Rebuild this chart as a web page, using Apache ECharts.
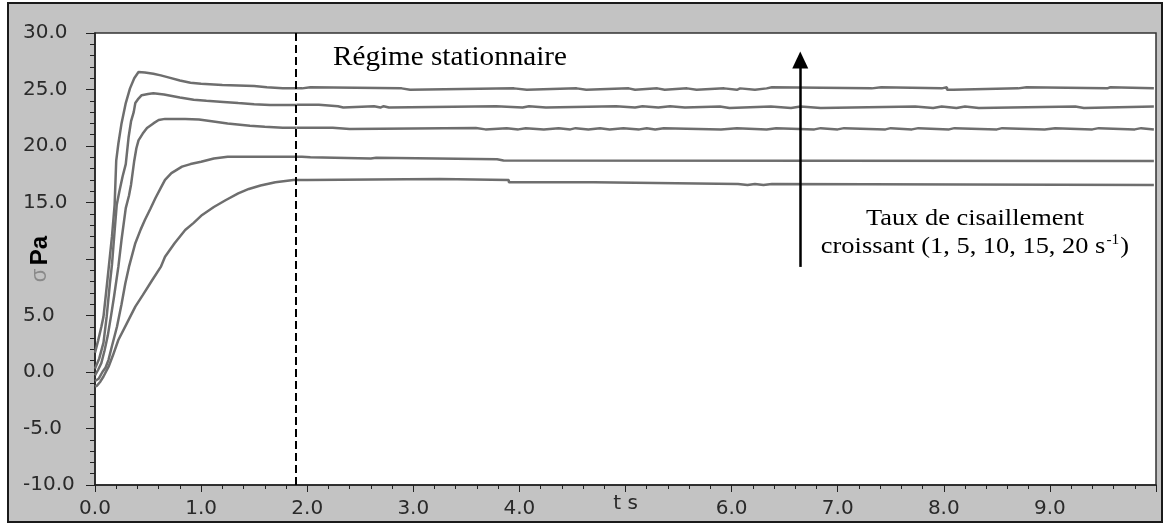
<!DOCTYPE html>
<html>
<head>
<meta charset="utf-8">
<script src="https://cdn.jsdelivr.net/npm/echarts@6/dist/echarts.min.js"></script>
<style>
  html, body { margin: 0; padding: 0; background: #fff; }
  #chart { width: 1163px; height: 524px; }
</style>
</head>
<body>
<div id="chart"></div>
<script>
// Shear stress (Pa) versus time (s) for five shear rates: start-up transient
// followed by the steady-state plateau.
const shearRates = [20, 15, 10, 5, 1];

// Start-up part of each curve, [t (s), sigma (Pa)]
const rise20 = [[0,1.7],[0.03,2.8],[0.06,4.0],[0.08,4.9],[0.11,7.5],[0.13,9.3],[0.16,12.0],[0.185,14.8],[0.2,18.7],[0.22,20.2],[0.25,22.0],[0.29,23.8],[0.33,25.1],[0.37,26.0],[0.41,26.55],[0.47,26.5],[0.55,26.4],[0.62,26.25],[0.7,26.05],[0.8,25.8],[0.9,25.6],[1.0,25.5],[1.2,25.4],[1.5,25.3],[1.62,25.2],[1.77,25.1],[1.9,25.1]];
const rise15 = [[0,0.3],[0.04,1.2],[0.08,2.6],[0.11,4.9],[0.14,7.8],[0.16,9.5],[0.185,12.5],[0.205,14.8],[0.23,16.0],[0.26,17.3],[0.29,18.4],[0.317,20.8],[0.34,22.2],[0.365,23.0],[0.38,23.8],[0.41,24.2],[0.44,24.5],[0.5,24.6],[0.55,24.66],[0.65,24.55],[0.8,24.3],[0.93,24.1],[1.05,24.0],[1.21,23.9],[1.35,23.8],[1.5,23.7],[1.65,23.62],[1.9,23.62]];
const rise10 = [[0,-0.3],[0.03,0.2],[0.06,0.8],[0.09,1.9],[0.12,3.2],[0.15,4.9],[0.18,6.7],[0.22,9.3],[0.25,11.7],[0.29,14.5],[0.32,15.6],[0.34,16.6],[0.37,18.7],[0.39,19.8],[0.41,20.5],[0.45,21.1],[0.49,21.6],[0.55,22.0],[0.6,22.3],[0.66,22.4],[0.75,22.4],[0.85,22.4],[0.98,22.35],[1.1,22.2],[1.25,22.0],[1.46,21.8],[1.6,21.7],[1.77,21.62],[1.9,21.62]];
const rise5 = [[0,-0.8],[0.034,-0.6],[0.07,0.0],[0.1,0.4],[0.128,1.1],[0.16,2.3],[0.207,4.0],[0.25,6.0],[0.286,7.85],[0.32,9.3],[0.38,11.4],[0.43,12.6],[0.47,13.45],[0.52,14.4],[0.57,15.4],[0.62,16.3],[0.66,17.0],[0.72,17.6],[0.82,18.17],[0.9,18.4],[1.0,18.6],[1.12,18.9],[1.25,19.05],[1.5,19.05],[1.9,19.05]];
const rise1 = [[0,-1.3],[0.02,-1.2],[0.05,-0.86],[0.08,-0.4],[0.128,0.47],[0.17,1.5],[0.22,2.83],[0.3,4.3],[0.38,5.78],[0.45,6.8],[0.54,8.14],[0.62,9.3],[0.66,10.2],[0.75,11.4],[0.85,12.57],[0.93,13.2],[1.01,13.9],[1.12,14.6],[1.23,15.2],[1.35,15.8],[1.45,16.2],[1.56,16.5],[1.7,16.8],[1.87,17.0],[1.9,17.0]];

// Steady-state part, recorded as stepped readings [t (s), sigma (Pa)]
const flat20 = [[1.9,25.1],[1.95,25.2],[2.03,25.1],[2.89,24.97],[2.97,25.1],[3.95,24.97],[4.07,25.1],[4.54,24.97],[4.63,25.1],[5.03,24.97],[5.09,25.1],[5.3,24.97],[5.37,25.1],[5.58,24.97],[5.67,25.1],[5.93,24.97],[6.05,25.1],[6.08,24.97],[6.22,25.1],[6.33,25.2],[6.38,25.1],[7.32,25.2],[7.41,25.1],[7.98,25.2],[8.03,24.97],[8.09,25.1],[8.7,25.2],[8.78,25.1],[9.54,25.2],[9.57,25.1],[9.98,25.1]];
const flat15 = [[1.9,23.65],[2.11,23.52],[2.29,23.4],[2.34,23.52],[2.63,23.4],[2.69,23.52],[2.72,23.4],[2.77,23.52],[3.78,23.4],[4.03,23.52],[4.09,23.4],[4.25,23.52],[4.91,23.4],[5.09,23.52],[5.16,23.4],[5.31,23.52],[5.42,23.4],[5.56,23.5],[5.89,23.36],[5.98,23.5],[6.37,23.36],[6.56,23.5],[6.65,23.36],[6.84,23.5],[7.73,23.36],[7.9,23.5],[7.98,23.36],[8.12,23.5],[8.2,23.36],[8.33,23.5],[9.24,23.36],[9.32,23.5],[9.98,23.5]];
const flat10 = [[1.9,21.62],[2.24,21.5],[2.4,21.6],[3.59,21.47],[3.68,21.58],[3.88,21.47],[3.99,21.58],[4.06,21.47],[4.23,21.58],[4.37,21.47],[4.48,21.58],[4.53,21.47],[4.65,21.58],[4.76,21.47],[4.85,21.58],[4.98,21.47],[5.13,21.58],[5.2,21.47],[5.28,21.58],[5.36,21.47],[5.9,21.58],[6.05,21.47],[6.33,21.58],[6.42,21.47],[6.78,21.58],[6.84,21.47],[7.0,21.58],[7.06,21.47],[7.45,21.58],[7.5,21.47],[7.7,21.58],[7.76,21.47],[8.05,21.58],[8.1,21.47],[8.5,21.58],[8.55,21.47],[8.95,21.58],[9.05,21.47],[9.4,21.58],[9.46,21.47],[9.8,21.58],[9.86,21.47],[9.98,21.47]];
const flat5 = [[1.9,19.05],[1.95,19.0],[2.03,18.9],[2.6,18.95],[2.65,18.82],[3.79,18.72],[3.85,18.67],[9.98,18.67]];
const flat1 = [[1.9,17.0],[2.0,17.08],[3.25,16.99],[3.9,16.79],[4.7,16.64],[6.06,16.55],[6.15,16.64],[6.22,16.55],[6.3,16.64],[6.38,16.55],[9.98,16.55]];

const riseSets = [rise20, rise15, rise10, rise5, rise1];
const flatSets = [flat20, flat15, flat10, flat5, flat1];

// Axis ranges and ticks
const xMin = 0, xMax = 10, xStep = 1;
const yMin = -10, yMax = 30, yStep = 5;

// Start of the steady regime, and the arrow of increasing shear rate
const steadyStart = 1.895;
const arrowFrom = [6.647, 9.3];
const arrowTo = [6.647, 27.6];

const curveColor = '#6e6e6e';
const tickFont = 'DejaVu Sans';

const chart = echarts.init(document.getElementById('chart'), null, { renderer: 'canvas' });

const series = [];
riseSets.forEach((d, i) => {
  series.push({
    name: shearRates[i] + ' s-1',
    type: 'line',
    data: d,
    showSymbol: false,
    silent: true,
    lineStyle: { color: curveColor, width: 2.5 },
    z: 3
  });
  series.push({
    name: shearRates[i] + ' s-1 steady',
    type: 'line',
    step: 'end',
    data: flatSets[i],
    showSymbol: false,
    silent: true,
    lineStyle: { color: curveColor, width: 2.5 },
    z: 3
  });
});

// Dashed start-of-steady-state line and arrow
series[0].markLine = {
  silent: true,
  animation: false,
  label: { show: false },
  data: [
    [
      { coord: [steadyStart, yMin], symbol: 'none' },
      { coord: [steadyStart, yMax], symbol: 'none' }
    ],
    [
      { coord: arrowFrom, symbol: 'none', lineStyle: { type: 'solid', width: 2.5, color: '#000' } },
      { coord: arrowTo, symbol: 'triangle', symbolSize: [16, 17] }
    ]
  ],
  lineStyle: { color: '#000', width: 2, type: [8, 4], opacity: 1 }
};

chart.setOption({
  animation: false,
  backgroundColor: '#fff',
  grid: {
    left: 95, top: 33, width: 1061, height: 452,
    containLabel: false, outerBoundsMode: 'none',
    show: true, backgroundColor: '#fff', borderColor: '#333', borderWidth: 1.5
  },
  xAxis: {
    type: 'value', min: xMin, max: xMax, interval: xStep,
    name: 't s', nameLocation: 'middle', nameGap: 9, nameMoveOverlap: false,
    nameTextStyle: { fontFamily: tickFont, fontSize: 20, color: '#2a2a2a' },
    axisLine: { onZero: false, lineStyle: { color: '#222', width: 1.5 } },
    axisTick: { length: 7, lineStyle: { color: '#222' } },
    minorTick: { show: true, splitNumber: 5, length: 4, lineStyle: { color: '#222' } },
    splitLine: { show: false },
    axisLabel: {
      margin: 14, fontFamily: tickFont, fontSize: 20, color: '#2a2a2a',
      formatter: v => (v === 5 || v === 10) ? '' : v.toFixed(1)
    }
  },
  yAxis: {
    type: 'value', min: yMin, max: yMax, interval: yStep,
    name: '{s|σ} {p|Pa}', nameLocation: 'middle', nameRotate: 90, nameGap: 43, nameMoveOverlap: false,
    nameTextStyle: {
      rich: {
        s: { fontFamily: 'Liberation Sans', fontSize: 22, color: '#8a8a8a' },
        p: { fontFamily: 'Liberation Sans', fontSize: 24, fontWeight: 'bold', color: '#000' }
      }
    },
    axisLine: { onZero: false, lineStyle: { color: '#222', width: 1.5 } },
    axisTick: { length: 9, lineStyle: { color: '#222' } },
    minorTick: { show: true, splitNumber: 5, length: 5, lineStyle: { color: '#222' } },
    splitLine: { show: false },
    axisLabel: {
      align: 'left', margin: 72, fontFamily: tickFont, fontSize: 20, color: '#2a2a2a',
      formatter: v => v === 10 ? '' : v.toFixed(1)
    }
  },
  graphic: [
    {
      type: 'rect', z: -10, silent: true,
      shape: { x: 8, y: 3, width: 1154, height: 519 },
      style: { fill: '#c3c3c3', stroke: '#1a1a1a', lineWidth: 2 }
    },
    {
      type: 'text', x: 333, y: 58, scaleX: 1.08, z: 10, silent: true,
      style: {
        text: 'Régime stationnaire', fill: '#000',
        font: '27px "Liberation Serif"',
        align: 'left', verticalAlign: 'middle', textAlign: 'left', textVerticalAlign: 'middle'
      }
    },
    {
      type: 'text', x: 975, y: 219, scaleX: 1.1, z: 10, silent: true,
      style: {
        text: 'Taux de cisaillement', fill: '#000',
        font: '24px "Liberation Serif"',
        align: 'center', verticalAlign: 'middle', textAlign: 'center', textVerticalAlign: 'middle'
      }
    },
    {
      type: 'text', x: 975, y: 247, scaleX: 1.1, z: 10, silent: true,
      style: {
        text: '{n|croissant (1, 5, 10, 15, 20 s}{u|-1}{n|)}', fill: '#000',
        align: 'center', verticalAlign: 'middle', textAlign: 'center', textVerticalAlign: 'middle',
        rich: {
          n: { fontFamily: 'Liberation Serif', fontSize: 24, fill: '#000', lineHeight: 28 },
          u: { fontFamily: 'Liberation Serif', fontSize: 14, fill: '#000', verticalAlign: 'top', lineHeight: 28, padding: [0, 1, 10, 1] }
        }
      }
    }
  ],
  series: series
});
</script>
</body>
</html>
